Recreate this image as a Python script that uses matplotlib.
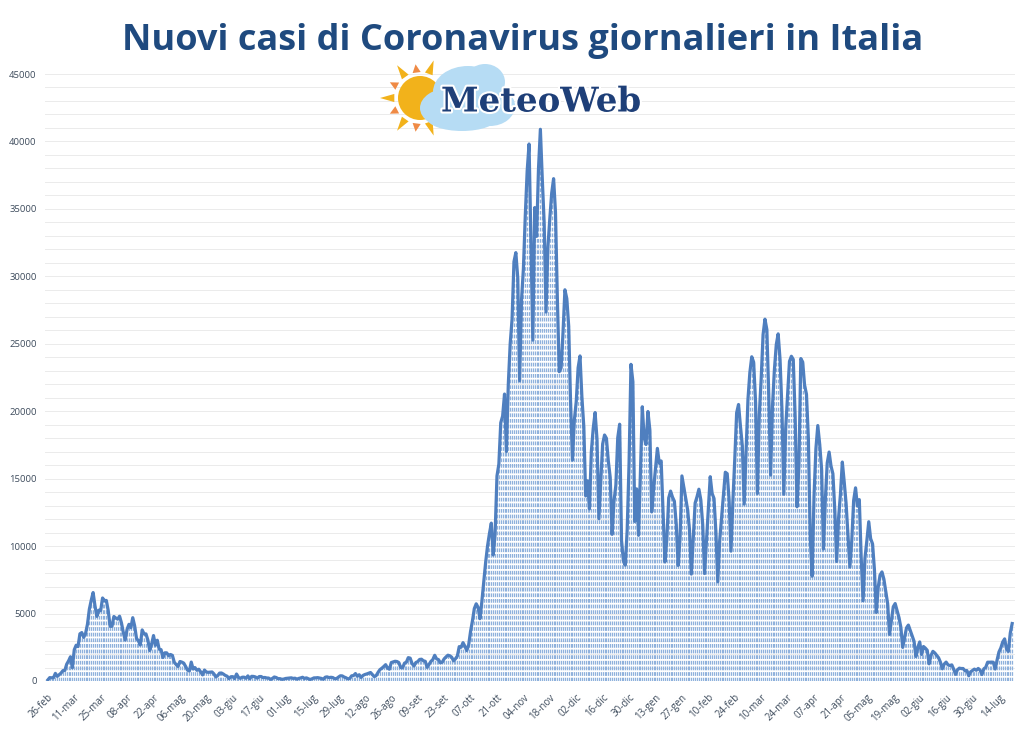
import numpy as np
import pandas as pd
import matplotlib
matplotlib.use('Agg')
import matplotlib.pyplot as plt
import matplotlib.patheffects as pe
from matplotlib.patches import Ellipse, Circle, Polygon
from matplotlib.ticker import MultipleLocator

# ------------------------- #
# Dati: nuovi casi giornalieri
# ------------------------- #

START = '2020-02-26'

feb20 = [78, 250, 238, 240]
mar20 = [566, 342, 466, 587, 769, 778, 1247, 1492, 1797, 977,
         2313, 2651, 2547, 3497, 3590, 3233, 3526, 4207, 5322, 5986,
         6557, 5560, 4789, 5249, 5210, 6153, 5959, 5974, 5217, 4050, 4053]
apr20 = [4782, 4668, 4585, 4805, 4316, 3599, 3039, 3836, 4204, 3951,
         4694, 4092, 3153, 2972, 2667, 3786, 3493, 3491, 3047, 2256,
         2729, 3370, 2646, 3021, 2357, 2324, 1739, 2091, 2086, 1872]
may20 = [1965, 1900, 1389, 1221, 1075, 1444, 1401, 1327, 1083, 802,
         744, 1402, 888, 992, 789, 875, 675, 451, 813, 665,
         642, 652, 669, 531, 300, 397, 584, 593, 516, 416, 355]
jun20 = [178, 318, 321, 177, 518, 270, 197, 280, 283, 202,
         379, 163, 346, 338, 301, 210, 329, 333, 251, 262,
         224, 218, 122, 190, 296, 259, 175, 174, 126, 142]
jul20 = [187, 201, 223, 235, 192, 208, 138, 193, 229, 276,
         188, 234, 169, 114, 162, 230, 233, 249, 219, 190,
         129, 282, 306, 252, 275, 255, 170, 181, 289, 386, 379]
aug20 = [295, 239, 159, 190, 384, 402, 552, 347, 463, 259,
         412, 481, 523, 574, 629, 479, 320, 403, 642, 845,
         947, 1071, 1210, 953, 878, 1367, 1411, 1462, 1444, 1365, 996]
sep20 = [978, 1326, 1397, 1733, 1694, 1297, 1108, 1370, 1434, 1597,
         1616, 1501, 1458, 1008, 1229, 1452, 1585, 1907, 1638, 1587,
         1350, 1392, 1640, 1786, 1912, 1869, 1766, 1494, 1648, 1851]
oct20 = [2548, 2499, 2844, 2578, 2257, 2677, 3678, 4458, 5372, 5724,
         5456, 4619, 5901, 7332, 8804, 10010, 10925, 11705, 9338, 10874,
         15199, 16079, 19143, 19644, 21273, 17012, 21994, 24991, 26831, 31084, 31758]
nov20 = [29907, 22253, 28244, 30550, 34505, 37809, 39811, 32616, 25271, 35098,
         32961, 37978, 40902, 37255, 33979, 27354, 32191, 34283, 36176, 37242,
         34767, 28337, 22930, 23232, 25853, 29003, 28352, 26323, 20648, 16377]
dec20 = [19350, 20709, 23225, 24099, 21052, 18887, 13720, 14842, 12756, 16999,
         18727, 19903, 17938, 12030, 14844, 17572, 18236, 17992, 16308, 15104,
         10872, 13318, 14522, 18040, 19037, 10407, 8913, 8585, 11212, 16202, 23477]
jan21 = [22211, 11831, 14245, 10800, 15378, 20331, 18020, 17533, 19978, 18627,
         12532, 14242, 15774, 17246, 16146, 16310, 12545, 8824, 10497, 13571,
         14078, 13633, 13331, 11629, 8561, 10593, 15204, 14372, 13574, 12715, 11252]
feb21 = [7925, 10630, 13189, 13659, 14218, 13442, 11641, 7970, 10404, 12956,
         15146, 13908, 13532, 11068, 7351, 10386, 12074, 13762, 15479, 15370,
         13452, 9630, 13314, 16424, 19886, 20499, 18916, 17455]
mar21 = [13114, 17083, 20884, 22865, 24036, 23641, 20765, 13902, 19749, 22409,
         25673, 26824, 26062, 21315, 15267, 20396, 23059, 24935, 25735, 23832,
         20159, 13846, 18765, 21267, 23696, 24076, 23839, 19611, 12916, 16017, 23904]
apr21 = [23649, 21932, 21261, 18025, 10680, 7767, 13708, 17221, 18938, 17567,
         15746, 9789, 13447, 16168, 16974, 15943, 15370, 12694, 8864, 12074,
         13844, 16232, 14761, 13158, 10852, 8444, 10404, 13385, 14320, 12965]
may21 = [13446, 9148, 5948, 9116, 10404, 11807, 10554, 10176, 8292, 5080,
         6946, 7852, 8085, 7567, 6659, 5753, 3455, 4452, 5506, 5741,
         5218, 4717, 3995, 2490, 3224, 3937, 4147, 3738, 3351, 2949, 1820]
jun21 = [2483, 2897, 1968, 2557, 2436, 2275, 1273, 1896, 2199, 2079,
         1901, 1723, 1390, 907, 1255, 1400, 1197, 1147, 1197, 881,
         495, 835, 952, 927, 925, 753, 778, 389, 679, 776]
jul21 = [882, 794, 932, 808, 480, 907, 1010, 1394, 1390, 1400,
         1391, 888, 1552, 2153, 2455, 2898, 3121, 2372, 2197, 3558, 4259]

MESI = ['gen', 'feb', 'mar', 'apr', 'mag', 'giu',
        'lug', 'ago', 'set', 'ott', 'nov', 'dic']

TITLE = 'Nuovi casi di Coronavirus giornalieri in Italia'

# ------------------------- #
# Preparazione
# ------------------------- #

casi = np.array(feb20 + mar20 + apr20 + may20 + jun20 + jul20 + aug20 + sep20
                + oct20 + nov20 + dec20 + jan21 + feb21 + mar21 + apr21
                + may21 + jun21 + jul21)
date = pd.date_range(START, periods=len(casi), freq='D')

LINE = '#4f7fbf'
DROP = '#8fb1dc'
TXT = '#3d4b5c'
NAVY = '#1f4a7f'

# ------------------------- #
# Grafico
# ------------------------- #

fig = plt.figure(figsize=(10.24, 7.40), dpi=100)
ax = fig.add_axes([45 / 1024, 59 / 740, 970 / 1024, 607 / 740])

ax.vlines(date, 0, casi, colors=DROP, linewidth=0.9, linestyles=(0, (3, 1.5)))
ax.plot(date, casi, color=LINE, linewidth=2.3, solid_joinstyle='round')

ax.set_ylim(0, 45000)
ax.set_xlim(date[0] - pd.Timedelta(days=1.5), date[-1] + pd.Timedelta(days=1.5))
ax.yaxis.set_major_locator(MultipleLocator(5000))
ax.yaxis.set_minor_locator(MultipleLocator(1000))
ax.grid(which='both', axis='y', color='#ebebeb', linewidth=0.7)
ax.set_axisbelow(True)

tick_dates = date[::14]
ax.set_xticks(tick_dates)
ax.set_xticklabels([f'{d.day:02d}-{MESI[d.month - 1]}' for d in tick_dates],
                   rotation=45, ha='right', rotation_mode='anchor',
                   fontsize=7, color=TXT, family='Open Sans')
for lab in ax.get_yticklabels():
    lab.set_family('Open Sans')
ax.tick_params(axis='both', which='both', length=0)
ax.tick_params(axis='y', labelsize=6.8, labelcolor=TXT, pad=6)
ax.tick_params(axis='x', pad=8)
for s in ax.spines.values():
    s.set_visible(False)

fig.text(523 / 1024, 1 - 41 / 740, TITLE, ha='center', va='center',
         fontsize=26, fontweight='bold', color=NAVY, family='Open Sans')

# ------------------------- #
# Logo MeteoWeb (disegnato)
# ------------------------- #

lg = fig.add_axes([0, 0, 1, 1], zorder=5)
lg.set_xlim(0, 1024)
lg.set_ylim(740, 0)
lg.axis('off')
lg.patch.set_alpha(0)

sx, sy = 420, 98
for i, ang in enumerate(np.linspace(70, 290, 9)):
    a = np.radians(ang)
    w = np.radians(9)
    r0, r1 = 26, 40 if i % 2 == 0 else 34
    col = '#f2b21b' if i % 2 == 0 else '#ef8a45'
    pts = [(sx + r0 * np.cos(a - w), sy - r0 * np.sin(a - w)),
           (sx + r1 * np.cos(a), sy - r1 * np.sin(a)),
           (sx + r0 * np.cos(a + w), sy - r0 * np.sin(a + w))]
    lg.add_patch(Polygon(pts, closed=True, color=col, lw=0))
lg.add_patch(Circle((sx, sy), 22, color='#f2b21b', lw=0))

for cx, cy, w, h in [(468, 92, 70, 52), (450, 108, 60, 40), (490, 106, 50, 40),
                     (485, 82, 40, 36), (462, 118, 70, 26)]:
    lg.add_patch(Ellipse((cx, cy), w, h, color='#b6dcf4', lw=0))

lg.text(541, 102, 'MeteoWeb', ha='center', va='center', fontsize=24.5,
        fontweight='bold', family='DejaVu Serif', color='#1e3f78',
        path_effects=[pe.withStroke(linewidth=3, foreground='white')])

fig.savefig('out.png', dpi=100)
